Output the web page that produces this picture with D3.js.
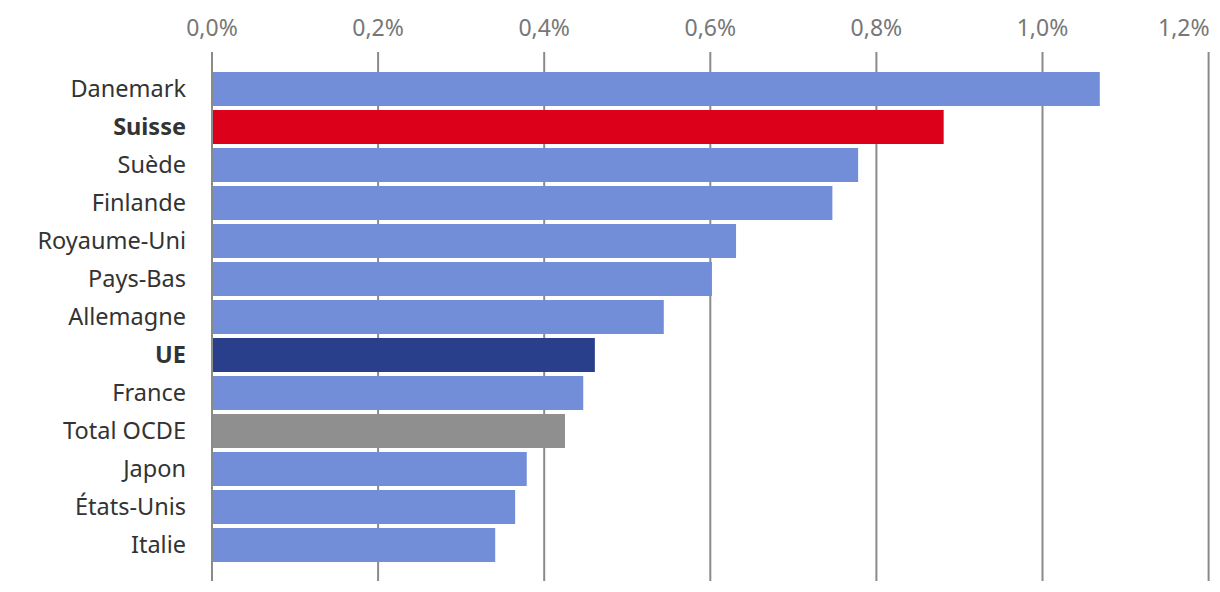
<!DOCTYPE html>
<html><head><meta charset="utf-8">
<script src="https://cdn.jsdelivr.net/npm/d3@7"></script>
<style>body{margin:0;background:#fff;} svg{display:block;font-family:"Noto Sans",sans-serif;}</style>
</head><body>
<script>
const categories = ["Danemark","Suisse","Suède","Finlande","Royaume-Uni","Pays-Bas","Allemagne","UE","France","Total OCDE","Japon","États-Unis","Italie"];
const values = [1.069,0.881,0.778,0.747,0.631,0.602,0.544,0.461,0.447,0.425,0.379,0.365,0.341];
const highlightBold = ["Suisse","UE"];
const tickValues = [0,0.2,0.4,0.6,0.8,1.0,1.2];
const colorMap = {"Suisse":"#DC001B","UE":"#2A3F8B","Total OCDE":"#8F8F8F"};
const defaultColor = "#728ED8";

const W=1220,H=592;
const svg=d3.select("body").append("svg").attr("width",W).attr("height",H);
const x=d3.scaleLinear().domain([0,1.2]).range([212,1208.6]);
const p=4/38;
const y=d3.scaleBand().domain(categories).range([70,564]).paddingInner(p).paddingOuter(p/2);

// gridlines
svg.append("g").selectAll("line").data(tickValues).join("line")
  .attr("x1",d=>x(d)).attr("x2",d=>x(d)).attr("y1",52).attr("y2",581)
  .attr("stroke","#8a8a8a").attr("stroke-width",2);

// tick labels
const last = tickValues[tickValues.length-1];
svg.append("g").selectAll("text").data(tickValues).join("text")
  .attr("x",d=>d===last?x(d)+1:x(d)).attr("y",36)
  .attr("text-anchor",d=>d===last?"end":"middle")
  .attr("fill","#777").attr("font-size",23)
  .text(d=>d3.format(".1f")(d).replace(".",",")+"%");

// bars
svg.append("g").selectAll("rect").data(categories).join("rect")
  .attr("x",x(0)+1).attr("y",d=>y(d)).attr("height",y.bandwidth())
  .attr("width",(d,i)=>x(values[i])-x(0)-1)
  .attr("fill",d=>colorMap[d]||defaultColor);

// category labels
svg.append("g").selectAll("text").data(categories).join("text")
  .attr("x",186).attr("y",d=>y(d)+y.bandwidth()/2).attr("dy","0.35em")
  .attr("text-anchor","end").attr("fill","#333").attr("font-size",23.5)
  .attr("font-weight",d=>highlightBold.includes(d)?"bold":"normal")
  .text(d=>d);
</script>
</body></html>
